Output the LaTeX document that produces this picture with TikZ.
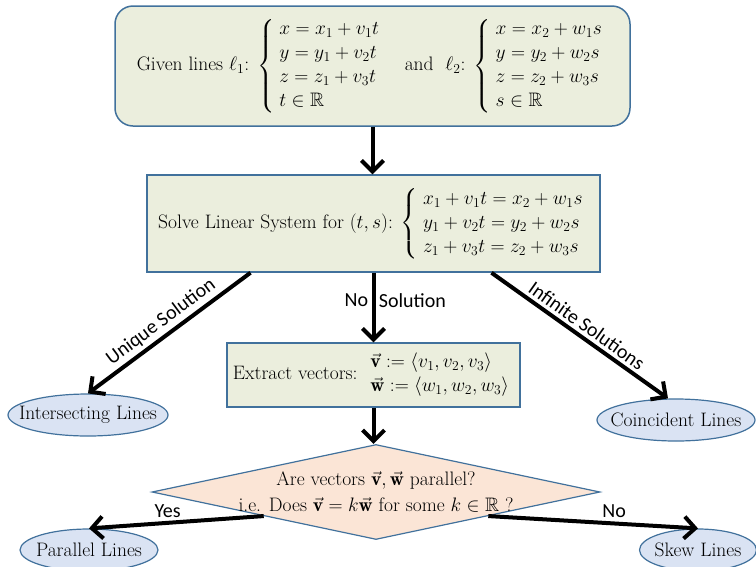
\RequirePackage{fix-cm}
\documentclass[tikz,border=0pt]{standalone}
\usepackage{amsmath,amssymb}
\usepackage{fontspec}
\newfontfamily\lblfont{Carlito}
\usetikzlibrary{shapes.geometric,arrows.meta}

\definecolor{boxfill}{HTML}{EBEEDD}
\definecolor{boxline}{HTML}{41719C}
\definecolor{ovalfill}{HTML}{DAE3F3}
\definecolor{decfill}{HTML}{FBE5D6}

\newcommand\boxsize{\fontsize{19.5}{24}\selectfont}

\tikzset{
  stepbox/.style={draw=boxline, fill=boxfill, line width=1.5pt, font=\boxsize},
  result/.style={ellipse, draw=boxline, fill=ovalfill, line width=1.2pt,
    inner xsep=-22pt, inner ysep=0pt, minimum height=42pt, font=\boxsize},
  decision/.style={diamond, draw=boxline, fill=decfill, line width=1.2pt, inner sep=0pt},
  flow/.style={line width=4pt, -{Straight Barb[length=11pt,width=22pt]}},
  lbl/.style={font=\lblfont\fontsize{20}{24}\selectfont}
}

\begin{document}
\begin{tikzpicture}[x=1pt,y=-1pt]
    \clip (0,0) rectangle (756,566);

    % Given lines
    \node[stepbox, rounded corners=18pt, minimum width=515pt, minimum height=120pt] (given) at (372.5,66)
        {Given lines $\ell_1$: $\left\{\begin{array}{l}
            x = x_1 + v_1 t\\ y = y_1 + v_2 t\\ z = z_1 + v_3 t\\ t \in \mathbb{R}
        \end{array}\right.$\quad and \ $\ell_2$: $\left\{\begin{array}{l}
            x = x_2 + w_1 s\\ y = y_2 + w_2 s\\ z = z_2 + w_3 s\\ s \in \mathbb{R}
        \end{array}\right.$};

    % Solve the system
    \node[stepbox, minimum width=453pt, minimum height=97pt] (solve) at (373.5,223.5)
        {Solve Linear System for $(t,s)$: $\left\{\begin{array}{l}
            x_1 + v_1 t = x_2 + w_1 s\\ y_1 + v_2 t = y_2 + w_2 s\\ z_1 + v_3 t = z_2 + w_3 s
        \end{array}\right.$};

    % Extract vectors
    \node[stepbox, minimum width=293pt, minimum height=64pt] (extract) at (373.5,375)
        {Extract vectors: $\begin{array}{l}
            \vec{\mathbf{v}} := \langle v_1, v_2, v_3 \rangle\\
            \vec{\mathbf{w}} := \langle w_1, w_2, w_3 \rangle
        \end{array}$};

    % Parallel test
    \node[decision, minimum width=448pt, minimum height=95pt] (dec) at (376,492) {};
    \node[font=\boxsize, align=center] (dectext) at (dec.center)
        {Are vectors $\vec{\mathbf{v}}, \vec{\mathbf{w}}$ parallel?\\[2pt]
         i.e. Does $\vec{\mathbf{v}} = k\vec{\mathbf{w}}$ for some $k \in \mathbb{R}$ ?};

    % Outcomes
    \node[result, minimum width=160pt] (inter) at (88,415) {Intersecting Lines};
    \node[result, minimum width=158pt] (coin) at (676,420) {Coincident Lines};
    \node[result, minimum width=138pt] (par) at (89,550) {Parallel Lines};
    \node[result, minimum width=117pt] (skew) at (698,550) {Skew Lines};

    % Connectors
    \draw[flow] (given.south) -- (given.south |- solve.north);
    \draw[flow] ([xshift=-123pt]solve.south) -- (inter.north)
        node[midway, sloped, above, lbl] {Unique Solution};
    \draw[flow] (solve.south) -- (extract.north)
        node[pos=0.4, left, lbl] {No} node[pos=0.4, right, lbl] {Solution};
    \draw[flow] ([xshift=118pt]solve.south) -- ([xshift=-8pt]coin.north)
        node[midway, sloped, above, lbl] {Infinite Solutions};
    \draw[flow] (extract.south) -- (extract.south |- dec.north);
    \draw[flow] (dec.south west) -- (par.north)
        node[pos=0.55, above, lbl] {Yes};
    \draw[flow] (dec.south east) -- (skew.north)
        node[pos=0.6, above, lbl] {No};
\end{tikzpicture}
\end{document}
